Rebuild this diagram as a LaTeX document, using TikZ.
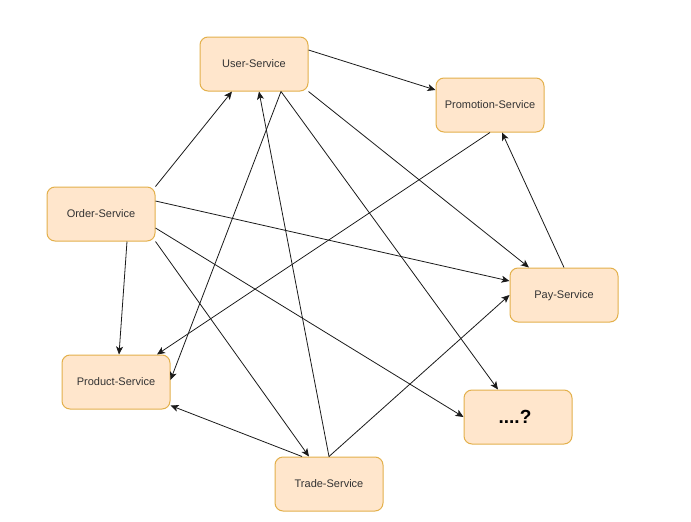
\documentclass[tikz,border=0pt]{standalone}
\usepackage{fontspec}
\setmainfont{Liberation Sans}
\usetikzlibrary{arrows.meta}
\definecolor{boxfill}{HTML}{FFE6CC}
\definecolor{boxline}{HTML}{E3B04B}
\definecolor{txt}{HTML}{333333}
\definecolor{edge}{HTML}{1A1A1A}
\begin{document}
\begin{tikzpicture}[x=1pt,y=-1pt,
  svc/.style={draw=boxline, fill=boxfill, line width=1pt, rounded corners=8pt,
    minimum width=108pt, minimum height=54pt, inner sep=0pt, text=txt,
    font=\fontsize{11}{13}\selectfont, text depth=0.5pt},
  link/.style={draw=edge, line width=0.8pt, -{Stealth[length=8pt,width=7pt,inset=2pt]}}]
\path[use as bounding box] (0,0) rectangle (691,522);
\node[svc] (user) at (254,64) {User-Service};
\node[svc] (promo) at (490,105) {Promotion-Service};
\node[svc] (order) at (101,214) {Order-Service};
\node[svc] (pay) at (564,295) {Pay-Service};
\node[svc] (product) at (116,382) {Product-Service};
\node[svc] (trade) at (329,484) {Trade-Service};
\node[svc, font=\fontsize{19}{21}\selectfont\bfseries, text=black] (q) at (518,417) {....?\hspace*{6pt}};
% edges
\draw[link] ([yshift=14pt]user.east) -- ([yshift=15pt]promo.west);
\draw[link] (user.south east) -- ([xshift=-35pt]pay.north);
\draw[link] ([xshift=27pt]user.south) -- ([xshift=-20pt]q.north);
\draw[link] ([xshift=27pt]user.south) -- ([yshift=2pt]product.east);
\draw[link] (order.north east) -- ([xshift=-22pt]user.south);
\draw[link] (trade.north) -- ([xshift=5pt]user.south);
\draw[link] ([yshift=13pt]order.east) -- ([yshift=14pt]pay.west);
\draw[link] ([yshift=-14pt]order.east) -- (q.west);
\draw[link] (order.south east) -- ([xshift=-20pt]trade.north);
\draw[link] ([xshift=26pt]order.south) -- ([xshift=3pt]product.north);
\draw[link] (promo.south) -- ([xshift=41pt]product.north);
\draw[link] (pay.north) -- ([xshift=12pt]promo.south);
\draw[link] (trade.north) -- (pay.west);
\draw[link] ([xshift=-27pt]trade.north) -- ([yshift=4pt]product.south east);
\end{tikzpicture}
\end{document}
